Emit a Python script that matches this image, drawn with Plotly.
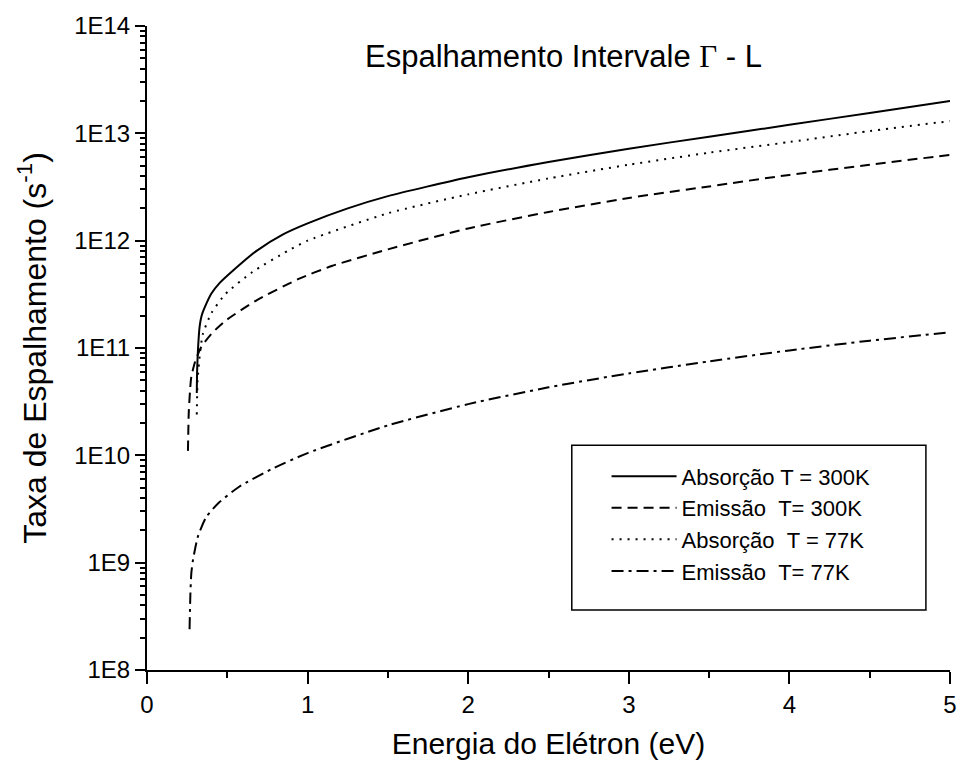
import plotly.graph_objects as go

# ---------------- data ----------------
abs300_x = [0.310, 0.312, 0.318, 0.328, 0.340, 0.36, 0.40, 0.45, 0.55, 0.68, 0.85, 1.0, 1.25, 1.5, 2.0, 2.5, 3.0, 3.5, 4.0, 4.5, 5.0]
abs300_y = [3.8e10, 6.0e10, 1.0e11, 1.6e11, 2.0e11, 2.4e11, 3.2e11, 4.0e11, 5.5e11, 8.0e11, 1.15e12, 1.45e12, 2.0e12, 2.6e12,
            3.9e12, 5.4e12, 7.2e12, 9.3e12, 1.2e13, 1.55e13, 2.0e13]

emi300_x = [0.255, 0.260, 0.268, 0.276, 0.30, 0.338, 0.40, 0.49, 0.677, 0.944, 1.15, 1.5, 2.0, 2.5, 3.0, 3.5, 4.0, 4.5, 5.0]
emi300_y = [1.1e10, 2.5e10, 4.0e10, 5.4e10, 7.5e10, 1.02e11, 1.35e11, 1.8e11, 2.75e11, 4.4e11, 5.8e11, 8.3e11,
            1.3e12, 1.85e12, 2.5e12, 3.2e12, 4.1e12, 5.1e12, 6.3e12]

abs77_x = [0.310, 0.315, 0.330, 0.348, 0.40, 0.49, 0.656, 0.88, 1.0, 1.5, 2.0, 2.5, 3.0, 3.5, 4.0, 4.5, 5.0]
abs77_y = [2.4e10, 5.0e10, 9.0e10, 1.35e11, 2.1e11, 3.2e11, 5.1e11, 8.1e11, 1.0e12, 1.8e12, 2.7e12, 3.8e12,
           5.1e12, 6.6e12, 8.3e12, 1.05e13, 1.3e13]

emi77_x = [0.265, 0.270, 0.276, 0.286, 0.317, 0.368, 0.45, 0.574, 0.78, 1.0, 1.5, 2.0, 2.5, 3.0, 3.5, 4.0, 4.5, 5.0]
emi77_y = [2.4e8, 5.0e8, 8.0e8, 1.05e9, 1.75e9, 2.65e9, 3.65e9, 5.1e9, 7.5e9, 1.05e10, 1.9e10, 3.0e10, 4.3e10,
           5.8e10, 7.5e10, 9.5e10, 1.17e11, 1.4e11]

series_names = ["Absorção T = 300K", "Emissão\u00a0\u00a0T= 300K", "Absorção\u00a0\u00a0T = 77K", "Emissão\u00a0\u00a0T= 77K"]

y_tickvals = [1e8, 1e9, 1e10, 1e11, 1e12, 1e13, 1e14]
y_ticktext = ["1E8", "1E9", "1E10", "1E11", "1E12", "1E13", "1E14"]
x_tickvals = [0, 1, 2, 3, 4, 5]
x_ticktext = ["0", "1", "2", "3", "4", "5"]

FONT = "Liberation Sans, Arial, sans-serif"

fig = go.Figure()
dashes = ["solid", "10px,6px", "2px,6px", "12px,5px,3px,5px"]
for (xs, ys), name, dash in zip([(abs300_x, abs300_y), (emi300_x, emi300_y), (abs77_x, abs77_y), (emi77_x, emi77_y)],
                                series_names, dashes):
    fig.add_trace(go.Scatter(x=xs, y=ys, mode="lines", name=name,
                             line=dict(color="black", width=2, dash=dash, shape="spline", smoothing=0.6)))

axis_common = dict(showgrid=False, zeroline=False, linecolor="black", linewidth=2, showline=True)

fig.update_layout(
    width=969, height=772,
    margin=dict(l=147, r=12, t=25, b=102),
    paper_bgcolor="white", plot_bgcolor="white",
    font=dict(family=FONT, color="black", size=22),
    showlegend=True,
    legend=dict(x=0.5723, y=0.3333, xanchor="left", yanchor="top",
                bgcolor="rgba(0,0,0,0)", borderwidth=0,
                font=dict(family=FONT, size=22, color="black"),
                itemwidth=65, tracegroupgap=0),
    xaxis=dict(**axis_common, range=[0, 5], tickmode="array", tickvals=x_tickvals, ticktext=x_ticktext,
               ticks="outside", ticklen=12, tickwidth=2, tickcolor="black",
               tickfont=dict(family=FONT, size=24),
               minor=dict(ticks="outside", ticklen=6, tickwidth=2, dtick=0.5, tickcolor="black", showgrid=False),
               title=dict(text="Energia do Elétron (eV)", font=dict(family=FONT, size=30), standoff=16)),
    yaxis=dict(**axis_common, type="log", range=[8, 14], tickmode="array", tickvals=y_tickvals, ticktext=y_ticktext,
               ticks="outside", ticklen=10, tickwidth=2, tickcolor="black",
               tickfont=dict(family=FONT, size=24),
               minor=dict(ticks="outside", ticklen=5, tickwidth=1.5, dtick="D1", tickcolor="black", showgrid=False),
               title=dict(text="Taxa de Espalhamento (s<sup>-1</sup>)", font=dict(family=FONT, size=32), standoff=18)),
    xaxis2=dict(**axis_common, overlaying="x", side="top", range=[0, 5], tickvals=x_tickvals, showticklabels=False,
                ticks="inside", ticklen=12, tickwidth=2, tickcolor="black",
                minor=dict(ticks="inside", ticklen=6, tickwidth=2, dtick=0.5, tickcolor="black", showgrid=False)),
    yaxis2=dict(**axis_common, overlaying="y", side="right", type="log", range=[8, 14], tickvals=y_tickvals,
                showticklabels=False, ticks="inside", ticklen=10, tickwidth=2, tickcolor="black",
                minor=dict(ticks="inside", ticklen=5, tickwidth=1.5, dtick="D1", tickcolor="black", showgrid=False)),
)

fig.add_shape(type="rect", xref="paper", yref="paper", x0=0.529, x1=0.970, y0=0.093, y1=0.349,
              line=dict(color="black", width=1.5), fillcolor="rgba(0,0,0,0)", layer="above")

fig.add_annotation(xref="paper", yref="paper", x=0.519, y=0.953, xanchor="center", yanchor="middle",
                   showarrow=False,
                   text="Espalhamento Intervale <span style='font-family:Liberation Serif'>Γ</span> - L",
                   font=dict(family=FONT, size=31, color="black"))

fig.write_html("out.html")
